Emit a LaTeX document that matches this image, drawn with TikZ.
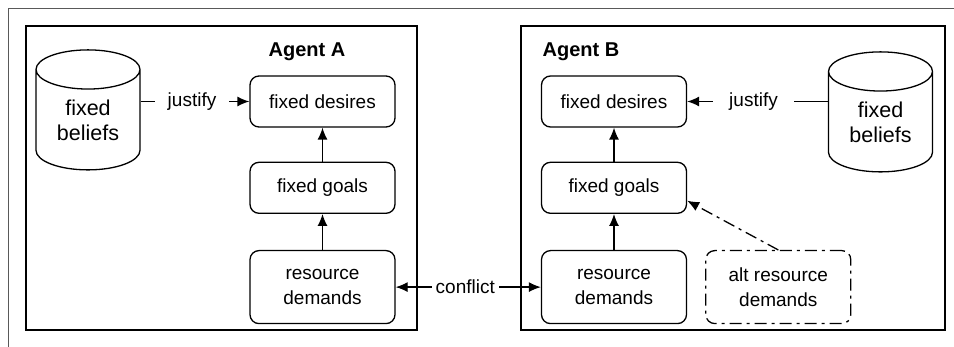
\documentclass[tikz,border=0pt]{standalone}
\usepackage{fontspec}
\setmainfont{Liberation Sans}
\usetikzlibrary{positioning, arrows.meta, shapes.geometric}
\tikzset{
  >={Latex[length=12pt,width=10pt]},
  every node/.style={font=\fontsize{19}{25}\selectfont},
  goalbox/.style={draw, line width=1.3pt, rounded corners=9pt, align=center,
    minimum width=145pt, minimum height=51pt, inner sep=0pt},
  tallbox/.style={goalbox, minimum height=73pt},
  altbox/.style={tallbox, dash pattern=on 12pt off 5pt on 3pt off 5pt},
  store/.style={draw, line width=1.3pt, cylinder, shape border rotate=90, aspect=0.63,
    minimum width=104pt, minimum height=120pt, align=center, inner sep=0pt,
    font=\fontsize{21.5}{25}\selectfont},
  agent/.style={draw, line width=1.3pt, inner sep=0pt},
  link/.style={->, line width=1.3pt},
  gap/.style={fill=white, inner xsep=#1},
}

\begin{document}
\begin{tikzpicture}[x=1pt, y=-1pt]
  \useasboundingbox (0,0) rectangle (954,347);
  % frame
  \draw[gray!70!black, line width=0.8pt] (8,347) -- (8,8) -- (954,8);

  % agents
  \node[agent, minimum width=391pt, minimum height=304pt] (agA) at (221.5,178) {};
  \node[agent, minimum width=424pt, minimum height=304pt] (agB) at (733,178) {};
  \node[font=\fontsize{20}{24}\selectfont\bfseries] (labA) at (307,52) {Agent A};
  \node[font=\fontsize{20}{24}\selectfont\bfseries] (labB) at (581,52) {Agent B};

  % agent A
  \node[goalbox] (desA) at (322.5,101.5) {fixed desires};
  \node[goalbox, below=34pt of desA] (goalsA) {fixed goals};
  \node[tallbox, below=36pt of goalsA] (resA) {resource\\demands};
  \node[store] (cylA) at (88,120) {fixed\\beliefs};

  % agent B
  \node[goalbox] (desB) at (614,101.5) {fixed desires};
  \node[goalbox, below=34pt of desB] (goalsB) {fixed goals};
  \node[tallbox, below=36pt of goalsB] (resB) {resource\\demands};
  \node[altbox, right=18pt of resB] (altB) {alt resource\\demands};
  \node[store] (cylB) at (880.5,122) {fixed\\beliefs};

  % links
  \draw[link] (goalsA) -- (desA);
  \draw[link] (resA) -- (goalsA);
  \draw[link] (goalsB) -- (desB);
  \draw[link] (resB) -- (goalsB);
  \draw[link] (cylA.east |- desA) -- node[gap=13pt, xshift=-3pt] {justify} (desA.west);
  \draw[link] (cylB.west |- desB) -- node[gap=16pt, xshift=-4pt] {justify} (desB.east);
  \draw[link, <->] (resA) -- node[gap=4pt, xshift=-3pt] {conflict} (resB);
  \draw[link, dash pattern=on 12pt off 5pt on 3pt off 5pt] (altB.north) -- (goalsB.-10);
\end{tikzpicture}
\end{document}
